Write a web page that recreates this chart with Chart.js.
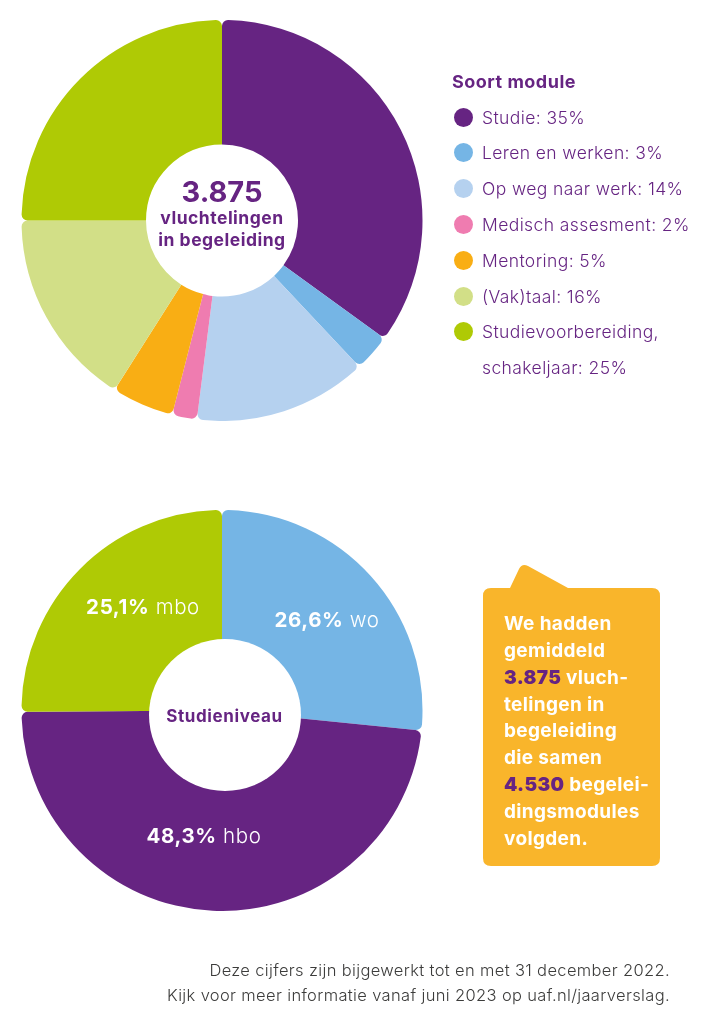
<!DOCTYPE html>
<html lang="nl">
<head>
<meta charset="utf-8">
<title>Soort module en studieniveau</title>
<script src="https://cdn.jsdelivr.net/npm/chart.js@4"></script>
<style>
  html, body { margin: 0; padding: 0; background: #fff; }
  body { position: relative; width: 710px; height: 1024px; overflow: hidden; font-family: Inter, "Open Sans", sans-serif; color: #662482; }
  canvas { position: absolute; }
  .abs { position: absolute; white-space: nowrap; }
  .mid { text-align: center; font-weight: 700; transform: translateX(-50%); }
  .legend-title { left: 452px; top: 71px; font-size: 18px; line-height: 22px; font-weight: 700; letter-spacing: .5px; }
  .legend-dot { position: absolute; width: 19px; height: 19px; border-radius: 50%; left: 453.5px; }
  .legend-text { left: 482px; font-size: 17.5px; line-height: 35.8px; font-weight: 300; letter-spacing: .4px; margin-top: -6.5px; }
  .slice { font-size: 20.5px; line-height: 26px; color: #fff; font-weight: 300; letter-spacing: .6px; transform: translateX(-50%); }
  .slice b { font-weight: 700; }
  #hole { position: absolute; left: 149px; top: 639px; width: 152px; height: 152px; border-radius: 50%; background: #fff; }
  #callout { position: absolute; left: 0; top: 0; }
  #callout-text { left: 504px; top: 611px; font-size: 19px; line-height: 26.85px; font-weight: 700; letter-spacing: .35px; color: #fff; }
  #callout-text b { color: #662482; }
  #note { right: 40px; top: 958px; text-align: right; font-size: 16.5px; line-height: 25px; font-weight: 300; letter-spacing: .35px; color: #3c3c3b; }
</style>
</head>
<body>
<canvas id="moduleChart" width="402" height="401" style="left:21px;top:20px;width:402px;height:401px"></canvas>
<canvas id="levelChart" width="402" height="401" style="left:21px;top:510px;width:402px;height:401px"></canvas>
<div id="hole"></div>

<svg id="callout" width="710" height="1024">
  <path fill="#f9b52b" d="M491 588 H510 L519 569 Q522 563 528 566 L568 588 H652 Q660 588 660 596 V858 Q660 866 652 866 H491 Q483 866 483 858 V596 Q483 588 491 588 Z"/>
</svg>

<div class="abs mid" style="left:222px;top:174px;font-size:29px;line-height:36px">3.875</div>
<div class="abs mid" style="left:222px;top:207px;font-size:17.5px;line-height:22px;letter-spacing:.5px">vluchtelingen<br>in begeleiding</div>
<div class="abs mid" style="left:224.5px;top:705px;font-size:17px;line-height:22px;letter-spacing:.6px">Studieniveau</div>

<div class="abs legend-title">Soort module</div>
<div id="legend"></div>

<div class="abs slice" style="left:327px;top:607px"><b>26,6%</b> wo</div>
<div class="abs slice" style="left:143px;top:594px"><b>25,1%</b> mbo</div>
<div class="abs slice" style="left:204px;top:823px"><b>48,3%</b> hbo</div>

<div class="abs" id="callout-text">We hadden<br>gemiddeld<br><b>3.875</b> vluch-<br>telingen in<br>begeleiding<br>die samen<br><b>4.530</b> begelei-<br>dingsmodules<br>volgden.</div>

<div class="abs" id="note">Deze cijfers zijn bijgewerkt tot en met 31 december 2022.<br>Kijk voor meer informatie vanaf juni 2023 op uaf.nl/jaarverslag.</div>

<script>
'use strict';

const moduleLabels = ['Studie', 'Leren en werken', 'Op weg naar werk', 'Medisch assesment', 'Mentoring', '(Vak)taal', 'Studievoorbereiding, schakeljaar'];
const moduleValues = [35, 3, 14, 2, 5, 16, 25];
const moduleColors = ['#662482', '#75b5e5', '#b5d1ef', '#ef7cb0', '#f9ae14', '#d2df87', '#afca05'];

const levelLabels = ['wo', 'hbo', 'mbo'];
const levelValues = [26.6, 48.3, 25.1];
const levelColors = ['#75b5e5', '#662482', '#afca05'];

function makeDonut(id, labels, values, colors, cutout) {
  new Chart(document.getElementById(id), {
    type: 'doughnut',
    data: {
      labels: labels,
      datasets: [{
        data: values,
        backgroundColor: colors,
        borderWidth: 0,
        borderRadius: { outerStart: 6, outerEnd: 6, innerStart: 0, innerEnd: 0 }
      }]
    },
    options: {
      responsive: false,
      animation: false,
      cutout: cutout,
      plugins: { legend: { display: false }, tooltip: { enabled: false } }
    }
  });
}

function buildLegend() {
  const legend = document.getElementById('legend');
  let y = 106;
  moduleLabels.forEach((label, i) => {
    const dot = document.createElement('div');
    dot.className = 'legend-dot';
    dot.style.top = (y + 1.5) + 'px';
    dot.style.background = moduleColors[i];
    legend.appendChild(dot);

    const text = document.createElement('div');
    text.className = 'abs legend-text';
    text.style.top = y + 'px';
    text.innerHTML = `${label}: ${moduleValues[i]}%`.replace(', ', ',<br>');
    legend.appendChild(text);
    y += 35.8;
  });
}

makeDonut('moduleChart', moduleLabels, moduleValues, moduleColors, '37.9%');
// the white hole of the second chart sits slightly off-centre, so the slices run to the middle under #hole
makeDonut('levelChart', levelLabels, levelValues, levelColors, 0);
buildLegend();
</script>
</body>
</html>
